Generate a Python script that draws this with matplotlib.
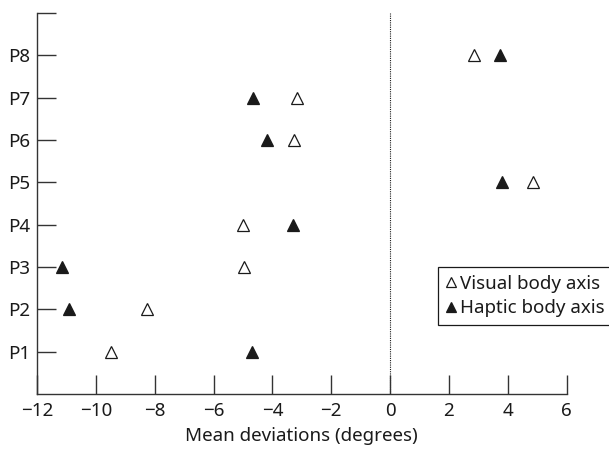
import matplotlib
matplotlib.use("Agg")
import matplotlib.pyplot as plt
from matplotlib.lines import Line2D

participants = ["P1", "P2", "P3", "P4", "P5", "P6", "P7", "P8"]
visual = [-9.5, -8.25, -4.95, -5.0, 4.85, -3.25, -3.15, 2.85]
haptic = [-4.7, -10.9, -11.15, -3.3, 3.8, -4.2, -4.65, 3.75]
xticks = [-12, -10, -8, -6, -4, -2, 0, 2, 4, 6]

plt.rcParams['font.family'] = ['Noto Sans', 'DejaVu Sans']
ink = '#1a1a1a'
fs = 13.5

fig = plt.figure(figsize=(6.09, 4.49), dpi=100)
ax = fig.add_axes([0.0608, 0.1225, 0.8697, 0.8485])
ypos = list(range(1, len(participants) + 1))

ax.axvline(0, color=ink, lw=0.8, ls=(0, (1, 1)), zorder=1)
ax.plot(visual, ypos, ls='none', marker='^', ms=8, mfc='white', mec=ink, mew=0.9, zorder=3)
ax.plot(haptic, ypos, ls='none', marker='^', ms=8, mfc=ink, mec=ink, mew=0.9, zorder=3)

ax.set_xlim(-12, 6)
ax.set_ylim(0, 9)
ax.set_xticks(xticks)
ax.set_xticklabels([str(t).replace('-', '\u2212') for t in xticks])
ax.set_yticks(ypos + [9])
ax.set_yticklabels(participants + [''])
for s in ['top', 'right']:
    ax.spines[s].set_visible(False)
for s in ['left', 'bottom']:
    ax.spines[s].set_color('#333333')
    ax.spines[s].set_linewidth(1.0)
ax.tick_params(axis='both', direction='in', length=14, width=1.0, color='#333333',
               labelsize=fs, labelcolor=ink)
ax.tick_params(axis='x', pad=6)
ax.tick_params(axis='y', pad=5)
ax.set_xlabel('Mean deviations (degrees)', fontsize=fs, color=ink, labelpad=5)

handles = [
    Line2D([], [], ls='none', marker='^', ms=7, mfc='white', mec=ink, mew=0.9),
    Line2D([], [], ls='none', marker='^', ms=7, mfc=ink, mec=ink, mew=0.9),
]
leg = fig.legend(handles, ['Visual body axis', 'Haptic body axis'],
                 loc='upper left', bbox_to_anchor=(0.719, 0.405),
                 bbox_transform=fig.transFigure, borderaxespad=0,
                 fancybox=False, framealpha=1, edgecolor=ink, fontsize=fs,
                 handlelength=0.6, handletextpad=0.2, borderpad=0.4,
                 labelspacing=0.35)
leg.get_frame().set_linewidth(0.9)
for t in leg.get_texts():
    t.set_color(ink)

fig.savefig('out.png', dpi=100)
